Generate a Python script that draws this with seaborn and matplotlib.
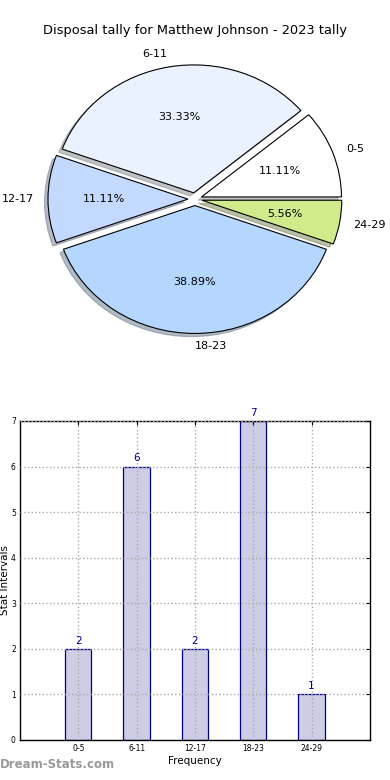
import matplotlib
matplotlib.use("Agg")
import matplotlib.pyplot as plt
import seaborn as sns

# chart data
intervals = ["0-5", "6-11", "12-17", "18-23", "24-29"]
counts = [2, 6, 2, 7, 1]
pie_colors = ["#ffffff", "#eaf1ff", "#c4d9ff", "#b4d6ff", "#cfeb8a"]
title = "Disposal tally for Matthew Johnson - 2023 tally"

sns.set_style("white")
plt.rcParams['font.family'] = ['DejaVu Sans']
plt.rcParams['text.color'] = 'black'
plt.rcParams['axes.labelcolor'] = 'black'
plt.rcParams['xtick.color'] = 'black'
plt.rcParams['ytick.color'] = 'black'

fig = plt.figure(figsize=(3.9, 7.8), dpi=100)

# pie chart
ax_pie = fig.add_axes([0.0513, 0.5397, 0.897, 0.410])
ax_pie.pie(counts, labels=intervals, colors=pie_colors, explode=[0.05] * 5,
           autopct='%1.2f%%', startangle=0,
           shadow={'ox': -0.018, 'oy': -0.018, 'shade': 0.45},
           wedgeprops={'edgecolor': 'black', 'linewidth': 0.8},
           textprops={'fontsize': 8, 'color': 'black'})
ax_pie.set_aspect('auto')
ax_pie.set_xlim(-1.25, 1.25)
ax_pie.set_ylim(-1.25, 1.25)
ax_pie.axis('off')
fig.text(0.5, 0.9615, title, ha='center', va='center', fontsize=9.4)

# bar chart
ax_bar = fig.add_axes([0.0513, 0.0513, 0.897, 0.409])
sns.barplot(x=intervals, y=counts, color="#cdcde6", edgecolor="#00008b",
            linewidth=0.9, width=0.45, saturation=1, ax=ax_bar)
for i, v in enumerate(counts):
    ax_bar.text(i, v + 0.07, str(v), ha='center', va='bottom',
                color="#00008b", fontsize=7.5)
ax_bar.set_xlim(-1, 5)
ax_bar.set_ylim(0, 7)
ax_bar.set_yticks(range(0, 8))
ax_bar.grid(True, linestyle=':', color='#aaaaaa', linewidth=1)
ax_bar.set_axisbelow(False)
ax_bar.tick_params(axis='both', labelsize=5.5, direction='in', length=3,
                   top=True, right=True, pad=3)
for s in ax_bar.spines.values():
    s.set_color('black')
    s.set_linewidth(1)
ax_bar.set_xlabel("Frequency", fontsize=7.5, labelpad=2)
ax_bar.set_ylabel("Stat Intervals", fontsize=7.5, labelpad=1)

fig.text(0.0, 0.012, "Dream-Stats.com", color='#999999', fontsize=8.5,
         fontweight='bold', ha='left', va='bottom')

fig.savefig("out.png", dpi=100)
